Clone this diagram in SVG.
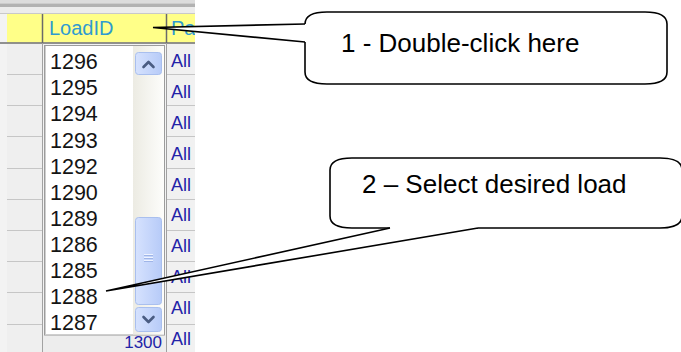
<svg xmlns="http://www.w3.org/2000/svg" width="681" height="352" viewBox="0 0 681 352">
<defs>
<style>
.rowline{stroke:#c6c6c6;stroke-width:1}
.num{font-family:"Liberation Sans",Arial,sans-serif;font-size:21.5px;fill:#141414}
.all{font-family:"Liberation Sans",Arial,sans-serif;font-size:18px;fill:#2323a8}
.hdr{font-family:"Liberation Sans",Arial,sans-serif;font-size:20px;fill:#2f9bd0}
.callout{fill:#fff;stroke:#000;stroke-width:1.6}
.tailfill{fill:#fff;stroke:none}
.tail{fill:none;stroke:#000;stroke-width:1.6}
.lbl{font-family:"Liberation Sans",Arial,sans-serif;font-size:26px;fill:#000}
.btn{fill:url(#btn);stroke:#a9bfee;stroke-width:1}
.chev{fill:none;stroke:#4a5c82;stroke-width:2.6;stroke-linecap:round;stroke-linejoin:round}
</style>
<linearGradient id="btn" x1="0" y1="0" x2="1" y2="0">
<stop offset="0" stop-color="#d6e2fe"/>
<stop offset="1" stop-color="#b7cbf8"/>
</linearGradient>
<linearGradient id="track" x1="0" y1="0" x2="1" y2="0">
<stop offset="0" stop-color="#ecebe3"/>
<stop offset="1" stop-color="#fdfdfb"/>
</linearGradient>
<clipPath id="clipPa"><rect x="167" y="14" width="28" height="29"/></clipPath>
</defs>

<g id="screenshot">
<rect x="0" y="0" width="195" height="352" fill="#f3f3f3"/>
<rect x="0" y="0" width="195" height="3.5" fill="#dcdcdc"/>
<rect x="0" y="3.5" width="195" height="3.5" fill="#b2b2b2"/>
<rect x="0" y="7" width="195" height="6.5" fill="#ececec"/>
<line x1="0" y1="13.5" x2="195" y2="13.5" stroke="#c9c9c9"/>
<rect x="7" y="14" width="188" height="28.5" fill="#ffff88"/>
<line x1="0" y1="43" x2="195" y2="43" stroke="#6f6f6f" stroke-width="1.5"/>
<line x1="42.5" y1="14" x2="42.5" y2="43" stroke="#6a6a6a" stroke-width="1.5"/>
<line x1="166.5" y1="14" x2="166.5" y2="43" stroke="#6a6a6a" stroke-width="1.5"/>
<text class="hdr" x="49" y="35">LoadID</text>
<text class="hdr" x="171" y="35" clip-path="url(#clipPa)">Pa</text>

<rect x="7" y="44" width="35" height="308" fill="#efefef"/>
<rect x="167" y="44" width="28" height="308" fill="#f1f1f1"/>
<g class="rowline">
<line x1="7" y1="74.5" x2="42" y2="74.5"/><line x1="167" y1="74.5" x2="195" y2="74.5"/>
<line x1="7" y1="105.5" x2="42" y2="105.5"/><line x1="167" y1="105.5" x2="195" y2="105.5"/>
<line x1="7" y1="136.5" x2="42" y2="136.5"/><line x1="167" y1="136.5" x2="195" y2="136.5"/>
<line x1="7" y1="168.5" x2="42" y2="168.5"/><line x1="167" y1="168.5" x2="195" y2="168.5"/>
<line x1="7" y1="199.5" x2="42" y2="199.5"/><line x1="167" y1="199.5" x2="195" y2="199.5"/>
<line x1="7" y1="230.5" x2="42" y2="230.5"/><line x1="167" y1="230.5" x2="195" y2="230.5"/>
<line x1="7" y1="261.5" x2="42" y2="261.5"/><line x1="167" y1="261.5" x2="195" y2="261.5"/>
<line x1="7" y1="292.5" x2="42" y2="292.5"/><line x1="167" y1="292.5" x2="195" y2="292.5"/>
<line x1="7" y1="324.5" x2="42" y2="324.5"/><line x1="167" y1="324.5" x2="195" y2="324.5"/>
</g>
<line x1="42.5" y1="43" x2="42.5" y2="352" stroke="#a2a2a2"/>
<line x1="166.5" y1="43" x2="166.5" y2="352" stroke="#a0a0a0"/>
<rect x="43" y="335" width="123" height="17" fill="#ededed"/>
<text class="all" x="162" y="348" text-anchor="end" style="font-size:17px">1300</text>

<g class="all">
<text x="171" y="67">All</text>
<text x="171" y="97.5">All</text>
<text x="171" y="128.5">All</text>
<text x="171" y="159.5">All</text>
<text x="171" y="190.5">All</text>
<text x="171" y="221">All</text>
<text x="171" y="252">All</text>
<text x="171" y="283">All</text>
<text x="171" y="313.5">All</text>
<text x="171" y="344.5">All</text>
</g>

<rect x="44.5" y="45.5" width="120" height="289.5" fill="#fff" stroke="#9c9c9c"/>
<line x1="45.5" y1="46" x2="45.5" y2="335" stroke="#cfcfcf"/>
<rect x="133" y="46" width="31" height="288.5" fill="url(#track)"/>
<rect class="btn" x="135.5" y="52.5" width="26" height="22" rx="3"/>
<polyline class="chev" points="143.5,67 148.5,62 153.5,67"/>
<rect class="btn" x="135.5" y="217.5" width="26" height="87" rx="3"/>
<g stroke-width="1">
<line x1="144" y1="254.5" x2="153" y2="254.5" stroke="#eef3ff"/>
<line x1="144" y1="255.5" x2="153" y2="255.5" stroke="#9fb5e8"/>
<line x1="144" y1="257.5" x2="153" y2="257.5" stroke="#eef3ff"/>
<line x1="144" y1="258.5" x2="153" y2="258.5" stroke="#9fb5e8"/>
<line x1="144" y1="260.5" x2="153" y2="260.5" stroke="#eef3ff"/>
<line x1="144" y1="261.5" x2="153" y2="261.5" stroke="#9fb5e8"/>
</g>
<rect class="btn" x="135.5" y="307.5" width="26" height="24" rx="3"/>
<polyline class="chev" points="143.5,317 148.5,322 153.5,317"/>

<g class="num">
<text x="50" y="69">1296</text>
<text x="50" y="95">1295</text>
<text x="50" y="121">1294</text>
<text x="50" y="147.5">1293</text>
<text x="50" y="173.5">1292</text>
<text x="50" y="199.5">1290</text>
<text x="50" y="225.5">1289</text>
<text x="50" y="251.5">1286</text>
<text x="50" y="278">1285</text>
<text x="50" y="304">1288</text>
<text x="50" y="330">1287</text>
</g>
</g>

<g id="callout-1">
<path class="callout" d="M305,24 Q305,12 327,12 L645,12 Q667,12 667,24 L667,72 Q667,84 645,84 L327,84 Q305,84 305,72 Z"/>
<text class="lbl" x="341" y="51.5">1 - Double-click here</text>
</g>

<g id="callout-2">
<path class="callout" d="M330,170 Q330,158 352,158 L660,158 Q682,158 682,170 L682,216 Q682,228 660,228 L352,228 Q330,228 330,216 Z"/>
<text class="lbl" x="362" y="193">2 – Select desired load</text>
</g>

<g id="connectors">
<polygon class="tailfill" points="307.5,24 305,24 153,27.5 305,42 307.5,42"/>
<polyline class="tail" points="305,24 153,27.5 305,42"/>
<polygon class="tailfill" points="390,225.5 390,228 106,291 478,228 478,225.5"/>
<polyline class="tail" points="390,228 106,291 478,228"/>
</g>
</svg>
